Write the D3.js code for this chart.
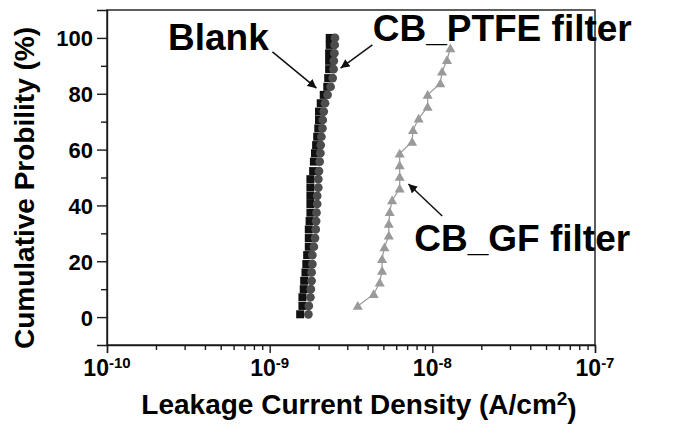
<!DOCTYPE html>
<html>
<head>
<meta charset="utf-8">
<script src="https://cdn.jsdelivr.net/npm/d3@7"></script>
<style>
  html, body { margin: 0; padding: 0; background: #fff; }
  svg text { font-family: "Liberation Sans", Arial, sans-serif; font-weight: bold; fill: #000; }
</style>
</head>
<body>
<div id="chart"></div>
<script>
// current density values are in units of 1e-9 A/cm2
const unit = 1e-9;

// Blank (squares) and CB_PTFE filter (circles) share the same probability rows
const probRows = [1, 4, 7.1, 10, 13, 16, 19, 22.2, 25.2, 28.3, 31.4, 34.4, 37.4, 40.5, 43.4, 46.4, 49.4,
  52.3, 55.7, 58.7, 61.6, 64.6, 67.6, 70.6, 73.6, 76.6, 79.6, 82.5, 85.6, 88.8, 91.8, 94.5, 97.5, 100];
const blankVals = [1.54, 1.59, 1.59, 1.62, 1.63, 1.66, 1.68, 1.70, 1.74, 1.74, 1.74, 1.76, 1.78, 1.78, 1.78, 1.78, 1.78,
  1.85, 1.87, 1.90, 1.93, 1.96, 1.99, 2.01, 2.01, 2.06, 2.15, 2.26, 2.29, 2.32, 2.32, 2.32, 2.34, 2.34];
const ptfeVals = [1.73, 1.74, 1.78, 1.79, 1.81, 1.81, 1.83, 1.83, 1.87, 1.90, 1.92, 1.93, 1.94, 1.96, 1.96, 1.99, 1.99,
  2.01, 2.03, 2.05, 2.06, 2.08, 2.11, 2.12, 2.15, 2.19, 2.27, 2.37, 2.44, 2.47, 2.48, 2.50, 2.51, 2.52];

// CB_GF filter (triangles)
const probGF = [4, 8.2, 12.4, 16.6, 20.8, 25, 29.2, 33.4, 37.6, 41.8, 46, 50.2, 54.4, 58.6, 62.8, 67, 71.1,
  75.3, 79.6, 83.7, 87.9, 92.1, 96.3];
const gfVals = [3.48, 4.36, 4.75, 4.91, 4.91, 5.08, 5.40, 5.40, 5.47, 5.66, 6.30, 6.30, 6.30, 6.30, 7.51, 7.61, 8.24,
  9.36, 9.36, 11.2, 11.47, 12.31, 12.9];

const xTickExps = [-10, -9, -8, -7];
const yTicks = [0, 20, 40, 60, 80, 100];
const yMinorTicks = [10, 30, 50, 70, 90];

const width = 681, height = 424;
const margin = { top: 10, right: 86, bottom: 79, left: 107 };

const svg = d3.select("#chart").append("svg")
    .attr("width", width)
    .attr("height", height);

const x = d3.scaleLog()
    .domain([1e-10, 1e-7])
    .range([margin.left, width - margin.right]);

const y = d3.scaleLinear()
    .domain([-10, 110])
    .range([height - margin.bottom, margin.top]);

const toPoints = (vals, probs) => vals.map((v, i) => ({ v: v * unit, p: probs[i] }));
const blank = toPoints(blankVals, probRows);
const ptfe = toPoints(ptfeVals, probRows);
const gf = toPoints(gfVals, probGF);

// Frame
svg.append("rect")
    .attr("x", margin.left)
    .attr("y", margin.top)
    .attr("width", width - margin.left - margin.right)
    .attr("height", height - margin.top - margin.bottom)
    .attr("fill", "none")
    .attr("stroke", "#1a1a1a")
    .attr("stroke-width", 1.4);

// Y axis (major + minor ticks)
const yAxis = svg.append("g")
    .attr("transform", `translate(${margin.left},0)`)
    .call(d3.axisLeft(y).tickValues(yTicks).tickSize(10).tickPadding(4));
svg.append("g")
    .attr("transform", `translate(${margin.left},0)`)
    .call(d3.axisLeft(y).tickValues(yMinorTicks).tickSize(6).tickFormat(""))
    .call(g => g.select(".domain").remove());
yAxis.selectAll("text").style("font-size", "22px").attr("dy", "0.36em");

// X axis (decades + minor ticks)
const minorX = [];
xTickExps.slice(0, -1).forEach(e => {
    for (let k = 2; k <= 9; k++) minorX.push(k * Math.pow(10, e));
});
svg.append("g")
    .attr("transform", `translate(0,${height - margin.bottom})`)
    .call(d3.axisBottom(x).tickValues(xTickExps.map(e => Math.pow(10, e))).tickSize(8).tickFormat(""));
svg.append("g")
    .attr("transform", `translate(0,${height - margin.bottom})`)
    .call(d3.axisBottom(x).tickValues(minorX).tickSize(5).tickFormat(""))
    .call(g => g.select(".domain").remove());

svg.selectAll(".domain, .tick line").attr("stroke", "#1a1a1a").attr("stroke-width", 1.4);

// decade labels with superscript exponents
const xLab = svg.selectAll(".xlab")
    .data(xTickExps)
    .join("text")
    .attr("class", "xlab")
    .attr("x", d => x(Math.pow(10, d)))
    .attr("y", height - margin.bottom + 31)
    .attr("text-anchor", "middle")
    .style("font-size", "23px");
xLab.append("tspan").text("10");
xLab.append("tspan").attr("dy", "-0.55em").style("font-size", "15px").text(d => "-" + Math.abs(d));

// Axis titles
const xTitle = svg.append("text")
    .attr("x", (margin.left + width - margin.right) / 2 + 8)
    .attr("y", height - 10)
    .attr("text-anchor", "middle")
    .style("font-size", "28px");
xTitle.append("tspan").text("Leakage Current Density (A/cm");
xTitle.append("tspan").attr("dy", "-0.45em").style("font-size", "19px").text("2");
xTitle.append("tspan").attr("dy", "0.45em").text(")");

svg.append("text")
    .attr("transform", `translate(34,188) rotate(-90)`)
    .attr("text-anchor", "middle")
    .style("font-size", "28px")
    .text("Cumulative Probility (%)");

// Series
const line = d3.line().x(d => x(d.v)).y(d => y(d.p));

svg.append("path").datum(gf)
    .attr("d", line).attr("fill", "none").attr("stroke", "#9a9a9a").attr("stroke-width", 1.2);

svg.selectAll(".blank")
    .data(blank)
    .join("path")
    .attr("class", "blank")
    .attr("transform", d => `translate(${x(d.v)},${y(d.p)})`)
    .attr("d", d3.symbol(d3.symbolSquare, 64))
    .attr("fill", "#111");

svg.selectAll(".ptfe")
    .data(ptfe)
    .join("path")
    .attr("class", "ptfe")
    .attr("transform", d => `translate(${x(d.v)},${y(d.p)})`)
    .attr("d", d3.symbol(d3.symbolCircle, 60))
    .attr("fill", "#4d4d4d");

svg.selectAll(".gf")
    .data(gf)
    .join("path")
    .attr("class", "gf")
    .attr("transform", d => `translate(${x(d.v)},${y(d.p) + 1})`)
    .attr("d", d3.symbol(d3.symbolTriangle, 44))
    .attr("fill", "#9a9a9a");

// Annotations
svg.append("defs").append("marker")
    .attr("id", "arrow")
    .attr("viewBox", "0 0 10 10")
    .attr("refX", 10).attr("refY", 5)
    .attr("markerWidth", 9).attr("markerHeight", 9)
    .attr("markerUnits", "userSpaceOnUse")
    .attr("orient", "auto")
    .append("path")
    .attr("d", "M0,0L10,5L0,10z")
    .attr("fill", "#111");

const notes = [
    { text: "Blank", tx: 2.37e-10, ty: 95.5, from: [1.04e-9, 95], to: [1.94e-9, 82] },
    { text: "CB_PTFE filter", tx: 4.3e-9, ty: 99, from: [4.28e-9, 97.5], to: [2.73e-9, 89.2] },
    { text: "CB_GF filter", tx: 7.75e-9, ty: 23.5, from: [1.15e-8, 36.2], to: [7.13e-9, 47.7] }
];

svg.selectAll(".note")
    .data(notes)
    .join("text")
    .attr("class", "note")
    .attr("x", d => x(d.tx))
    .attr("y", d => y(d.ty))
    .style("font-size", "37px")
    .text(d => d.text);

svg.selectAll(".arrow")
    .data(notes)
    .join("line")
    .attr("class", "arrow")
    .attr("x1", d => x(d.from[0])).attr("y1", d => y(d.from[1]))
    .attr("x2", d => x(d.to[0])).attr("y2", d => y(d.to[1]))
    .attr("stroke", "#111")
    .attr("stroke-width", 1.5)
    .attr("marker-end", "url(#arrow)");
</script>
</body>
</html>
